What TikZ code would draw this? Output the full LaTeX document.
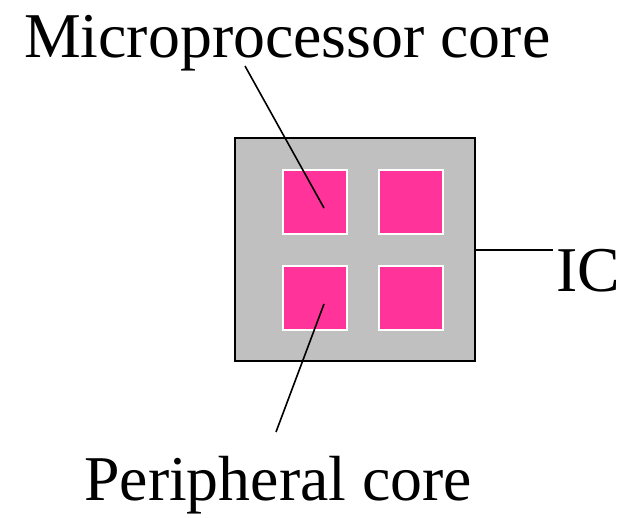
\documentclass[tikz,border=0pt]{standalone}
\usepackage{fontspec}
\setmainfont{Liberation Serif}
\definecolor{chipgray}{HTML}{C0C0C0}
\definecolor{corepink}{HTML}{FF3399}
\begin{document}
\begin{tikzpicture}[x=1pt,y=-1pt,
  lbl/.style={font=\fontsize{63.8}{70}\selectfont, inner sep=0pt, anchor=base west},
  chip/.style={draw=black, fill=chipgray, line width=2pt},
  corebox/.style={draw=white, fill=corepink, line width=2pt},
  lead/.style={draw=black, line width=1.6pt}]
\useasboundingbox (0,0) rectangle (629,517);
\draw[chip] (235,138) rectangle (475,361);
\node[corebox, minimum width=64pt, minimum height=64pt, inner sep=0pt] (c1) at (315,202) {};
\node[corebox, minimum width=64pt, minimum height=64pt, inner sep=0pt] (c2) at (411,202) {};
\node[corebox, minimum width=64pt, minimum height=64pt, inner sep=0pt] (c3) at (315,298) {};
\node[corebox, minimum width=64pt, minimum height=64pt, inner sep=0pt] (c4) at (411,298) {};
\coordinate (chipR) at (475,250);
\coordinate (p1) at (324,208);
\coordinate (p3) at (324,304);
\node[lbl] (mp) at (24,57) {Microprocessor core};
\node[lbl] (pc) at (84,500) {Peripheral core};
\node[lbl] (ic) at (556,291) {IC};
\coordinate (mpEnd) at (245,66);
\coordinate (pcEnd) at (276,432);
\coordinate (icEnd) at (553,250);
\draw[lead] (mpEnd) -- (p1);
\draw[lead] (pcEnd) -- (p3);
\draw[lead] (chipR) -- (icEnd);
\end{tikzpicture}
\end{document}
